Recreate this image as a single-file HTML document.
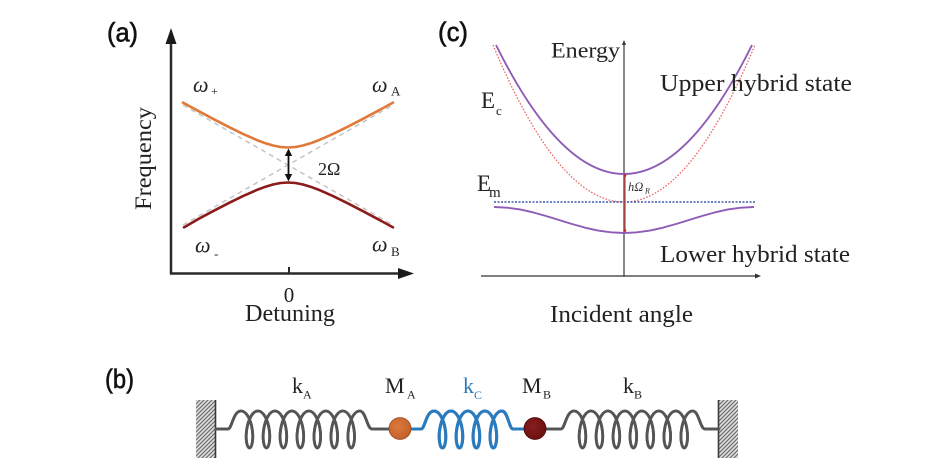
<!DOCTYPE html>
<html>
<head>
<meta charset="utf-8">
<style>
  html,body{margin:0;padding:0;background:#fff;}
  svg{display:block;}
  .serif{font-family:"Liberation Serif","DejaVu Serif",serif;}
  .sans{font-family:"Liberation Sans","DejaVu Sans",sans-serif;}
</style>
</head>
<body>
<svg width="943" height="468" viewBox="0 0 943 468" xmlns="http://www.w3.org/2000/svg">
  <defs>
    <pattern id="hatch" patternUnits="userSpaceOnUse" width="4" height="4">
      <rect width="4" height="4" fill="#e2e2e2"/>
      <path d="M-1,1 l2,-2 M0,4 l4,-4 M3,5 l2,-2" stroke="#707070" stroke-width="1.3"/>
    </pattern>
    <radialGradient id="gOr" cx="0.4" cy="0.4" r="0.6">
      <stop offset="0" stop-color="#dc7a3c"/>
      <stop offset="1" stop-color="#c4612a"/>
    </radialGradient>
    <radialGradient id="gRd" cx="0.4" cy="0.4" r="0.6">
      <stop offset="0" stop-color="#8a1e1e"/>
      <stop offset="1" stop-color="#6a1010"/>
    </radialGradient>
  </defs>

  <!-- ================= Panel (a) ================= -->
  <text x="107" y="41.5" class="sans" font-size="27" textLength="31" lengthAdjust="spacingAndGlyphs" fill="#111" stroke="#111" stroke-width="0.6">(a)</text>

  <!-- axes -->
  <line x1="171" y1="274" x2="171" y2="40" stroke="#2a2a2a" stroke-width="2.5"/>
  <polygon points="171,28 165.5,44 176.5,44" fill="#1a1a1a"/>
  <line x1="170" y1="273.5" x2="402" y2="273.5" stroke="#2a2a2a" stroke-width="2.5"/>
  <polygon points="414,273.5 398,268 398,279" fill="#1a1a1a"/>
  <line x1="289" y1="267" x2="289" y2="273" stroke="#2a2a2a" stroke-width="2"/>

  <text x="289" y="302" class="serif" font-size="21" text-anchor="middle" fill="#222">0</text>
  <text x="290" y="321" class="serif" font-size="24" text-anchor="middle" textLength="90" lengthAdjust="spacingAndGlyphs" fill="#222">Detuning</text>
  <text transform="translate(151,158.5) rotate(-90)" class="serif" font-size="23" text-anchor="middle" textLength="103" lengthAdjust="spacingAndGlyphs" fill="#222">Frequency</text>

  <!-- asymptotes -->
  <line x1="183" y1="105" x2="393" y2="225" stroke="#c4c4c4" stroke-width="1.5" stroke-dasharray="5 4"/>
  <line x1="183" y1="225" x2="393" y2="105" stroke="#c4c4c4" stroke-width="1.5" stroke-dasharray="5 4"/>

  <!-- curves -->
  <polyline fill="none" stroke="#e07a3a" stroke-width="2.6" stroke-linejoin="round" stroke-linecap="round"
    points="183,102.64 198,110.8 213,118.81 228,126.58 243,133.95 258,140.53 265.5,143.3 273,145.52 280.5,146.99 288,147.5 295.5,146.99 303,145.52 310.5,143.3 318,140.53 333,133.95 348,126.58 363,118.81 378,110.8 393,102.64"/>
  <polyline fill="none" stroke="#8b1c1c" stroke-width="2.6" stroke-linejoin="round" stroke-linecap="round"
    points="184,227.36 198,219.2 213,211.19 228,203.42 243,196.05 258,189.47 265.5,186.7 273,184.48 280.5,183.01 288,182.5 295.5,183.01 303,184.48 310.5,186.7 318,189.47 333,196.05 348,203.42 363,211.19 378,219.2 393,227.36"/>

  <!-- 2Omega arrow -->
  <line x1="288.5" y1="153" x2="288.5" y2="177" stroke="#111" stroke-width="1.8"/>
  <polygon points="288.5,148.5 284.8,156 292.2,156" fill="#111"/>
  <polygon points="288.5,181.5 284.8,174 292.2,174" fill="#111"/>
  <text x="318" y="175" class="serif" font-size="18" fill="#222">2Ω</text>

  <!-- omega labels -->
  <text x="193" y="92" class="serif" font-size="22" font-style="italic" fill="#222">ω</text>
  <text x="211" y="95" class="serif" font-size="12" fill="#222">+</text>
  <text x="372" y="92" class="serif" font-size="22" font-style="italic" fill="#222">ω</text>
  <text x="391" y="95.5" class="serif" font-size="13" fill="#222">A</text>
  <text x="195" y="252.5" class="serif" font-size="22" font-style="italic" fill="#222">ω</text>
  <text x="214" y="258" class="serif" font-size="13" fill="#222">-</text>
  <text x="372" y="251.5" class="serif" font-size="22" font-style="italic" fill="#222">ω</text>
  <text x="391" y="256" class="serif" font-size="13" fill="#222">B</text>

  <!-- ================= Panel (c) ================= -->
  <text x="438" y="41" class="sans" font-size="27" textLength="30" lengthAdjust="spacingAndGlyphs" fill="#111" stroke="#111" stroke-width="0.6">(c)</text>

  <!-- axes -->
  <line x1="624" y1="43" x2="624" y2="277" stroke="#555" stroke-width="1.4"/>
  <polygon points="624,40 622,45 626,45" fill="#333"/>
  <line x1="481" y1="276" x2="757" y2="276" stroke="#555" stroke-width="1.6"/>
  <polygon points="761,276 755,273.5 755,278.5" fill="#333"/>

  <!-- red dotted parabola -->
  <path d="M493,45 Q624,359 755,45" fill="none" stroke="#ec6a6a" stroke-width="1.3" stroke-dasharray="1.6 1.6"/>
  <!-- upper purple parabola -->
  <path d="M496,45 Q624,303 752,45" fill="none" stroke="#8e5bb5" stroke-width="1.9"/>
  <!-- blue dotted line -->
  <line x1="494" y1="202" x2="755" y2="202" stroke="#3a56a8" stroke-width="1.6" stroke-dasharray="2 1.5"/>
  <!-- lower purple -->
  <polyline fill="none" stroke="#8e5bb5" stroke-width="1.9" stroke-linejoin="round"
    points="494,207 507,207.64 520,209.48 533,212.36 546,215.98 559,220 572,224.02 585,227.64 598,230.52 611,232.36 624,233 637,232.36 650,230.52 663,227.64 676,224.02 689,220 702,215.98 715,212.36 728,209.48 741,207.64 754,207"/>
  <!-- red vertical -->
  <line x1="625" y1="175" x2="625" y2="231" stroke="#d43a3a" stroke-width="1.2"/>
  <circle cx="625" cy="175.5" r="1.3" fill="#c02020"/>
  <circle cx="625" cy="230.5" r="1.3" fill="#c02020"/>
  <text x="628" y="191" class="serif" font-size="12.5" font-style="italic" fill="#333">hΩ</text>
  <text x="645" y="193.5" class="serif" font-size="8" font-style="italic" fill="#333">R</text>

  <!-- labels -->
  <text x="551" y="57.5" class="serif" font-size="22" textLength="69" lengthAdjust="spacingAndGlyphs" fill="#222">Energy</text>
  <text x="660" y="91" class="serif" font-size="24" textLength="192" lengthAdjust="spacingAndGlyphs" fill="#222">Upper hybrid state</text>
  <text x="660" y="262" class="serif" font-size="24" textLength="190" lengthAdjust="spacingAndGlyphs" fill="#222">Lower hybrid state</text>
  <text x="550" y="322" class="serif" font-size="24" textLength="143" lengthAdjust="spacingAndGlyphs" fill="#222">Incident angle</text>
  <text x="481" y="108" class="serif" font-size="23" fill="#222">E</text>
  <text x="496" y="115" class="serif" font-size="13" fill="#222">c</text>
  <text x="477" y="191" class="serif" font-size="23" fill="#222">E</text>
  <text x="489" y="197" class="serif" font-size="15" fill="#222">m</text>

  <!-- ================= Panel (b) ================= -->
  <text x="105" y="388" class="sans" font-size="27" textLength="29" lengthAdjust="spacingAndGlyphs" fill="#111" stroke="#111" stroke-width="0.6">(b)</text>

  <!-- walls -->
  <rect x="196" y="400" width="19" height="58" fill="url(#hatch)"/>
  <line x1="215.5" y1="400" x2="215.5" y2="458" stroke="#3a3a3a" stroke-width="1.6"/>
  <rect x="719" y="400" width="19" height="58" fill="url(#hatch)"/>
  <line x1="718.5" y1="400" x2="718.5" y2="458" stroke="#3a3a3a" stroke-width="1.6"/>

  <g fill="none" stroke-linejoin="round" stroke-linecap="round">
    <!-- left spring -->
    <path id="sL" d="M216,429 L228,429 C232,429 233,411 241,411
      c 5.34,0 9.75,8.32 11.24,18.5 c 1.49,10.18 -0.39,18.5 -2.76,18.5 c -2.37,0 -4.25,-8.32 -2.76,-18.5 c 1.49,-10.18 5.9,-18.5 11.24,-18.5
      c 5.34,0 9.75,8.32 11.24,18.5 c 1.49,10.18 -0.39,18.5 -2.76,18.5 c -2.37,0 -4.25,-8.32 -2.76,-18.5 c 1.49,-10.18 5.9,-18.5 11.24,-18.5
      c 5.34,0 9.75,8.32 11.24,18.5 c 1.49,10.18 -0.39,18.5 -2.76,18.5 c -2.37,0 -4.25,-8.32 -2.76,-18.5 c 1.49,-10.18 5.9,-18.5 11.24,-18.5
      c 5.34,0 9.75,8.32 11.24,18.5 c 1.49,10.18 -0.39,18.5 -2.76,18.5 c -2.37,0 -4.25,-8.32 -2.76,-18.5 c 1.49,-10.18 5.9,-18.5 11.24,-18.5
      c 5.34,0 9.75,8.32 11.24,18.5 c 1.49,10.18 -0.39,18.5 -2.76,18.5 c -2.37,0 -4.25,-8.32 -2.76,-18.5 c 1.49,-10.18 5.9,-18.5 11.24,-18.5
      c 5.34,0 9.75,8.32 11.24,18.5 c 1.49,10.18 -0.39,18.5 -2.76,18.5 c -2.37,0 -4.25,-8.32 -2.76,-18.5 c 1.49,-10.18 5.9,-18.5 11.24,-18.5
      c 5.34,0 9.75,8.32 11.24,18.5 c 1.49,10.18 -0.39,18.5 -2.76,18.5 c -2.37,0 -4.25,-8.32 -2.76,-18.5 c 1.49,-10.18 5.9,-18.5 11.24,-18.5
      C366,411 367,429 372,429 L389,429" stroke="#555" stroke-width="2.8"/>
    <use href="#sL" stroke="#cfcfcf" stroke-width="1"/>

    <!-- right spring -->
    <path id="sR" d="M546,429 L561,429 C565,429 566,411 574,411
      c 5.34,0 9.75,8.32 11.24,18.5 c 1.49,10.18 -0.39,18.5 -2.76,18.5 c -2.37,0 -4.25,-8.32 -2.76,-18.5 c 1.49,-10.18 5.9,-18.5 11.24,-18.5
      c 5.34,0 9.75,8.32 11.24,18.5 c 1.49,10.18 -0.39,18.5 -2.76,18.5 c -2.37,0 -4.25,-8.32 -2.76,-18.5 c 1.49,-10.18 5.9,-18.5 11.24,-18.5
      c 5.34,0 9.75,8.32 11.24,18.5 c 1.49,10.18 -0.39,18.5 -2.76,18.5 c -2.37,0 -4.25,-8.32 -2.76,-18.5 c 1.49,-10.18 5.9,-18.5 11.24,-18.5
      c 5.34,0 9.75,8.32 11.24,18.5 c 1.49,10.18 -0.39,18.5 -2.76,18.5 c -2.37,0 -4.25,-8.32 -2.76,-18.5 c 1.49,-10.18 5.9,-18.5 11.24,-18.5
      c 5.34,0 9.75,8.32 11.24,18.5 c 1.49,10.18 -0.39,18.5 -2.76,18.5 c -2.37,0 -4.25,-8.32 -2.76,-18.5 c 1.49,-10.18 5.9,-18.5 11.24,-18.5
      c 5.34,0 9.75,8.32 11.24,18.5 c 1.49,10.18 -0.39,18.5 -2.76,18.5 c -2.37,0 -4.25,-8.32 -2.76,-18.5 c 1.49,-10.18 5.9,-18.5 11.24,-18.5
      c 5.34,0 9.75,8.32 11.24,18.5 c 1.49,10.18 -0.39,18.5 -2.76,18.5 c -2.37,0 -4.25,-8.32 -2.76,-18.5 c 1.49,-10.18 5.9,-18.5 11.24,-18.5
      C699,411 700,429 705,429 L719,429" stroke="#555" stroke-width="2.8"/>
    <use href="#sR" stroke="#cfcfcf" stroke-width="1"/>

    <!-- coupling spring (blue) -->
    <path id="sC" d="M410,429 L421,429 C425,429 426,411 434,411
      c 5.34,0 9.75,8.32 11.24,18.5 c 1.49,10.18 -0.39,18.5 -2.76,18.5 c -2.37,0 -4.25,-8.32 -2.76,-18.5 c 1.49,-10.18 5.9,-18.5 11.24,-18.5
      c 5.34,0 9.75,8.32 11.24,18.5 c 1.49,10.18 -0.39,18.5 -2.76,18.5 c -2.37,0 -4.25,-8.32 -2.76,-18.5 c 1.49,-10.18 5.9,-18.5 11.24,-18.5
      c 5.34,0 9.75,8.32 11.24,18.5 c 1.49,10.18 -0.39,18.5 -2.76,18.5 c -2.37,0 -4.25,-8.32 -2.76,-18.5 c 1.49,-10.18 5.9,-18.5 11.24,-18.5
      c 5.34,0 9.75,8.32 11.24,18.5 c 1.49,10.18 -0.39,18.5 -2.76,18.5 c -2.37,0 -4.25,-8.32 -2.76,-18.5 c 1.49,-10.18 5.9,-18.5 11.24,-18.5
      C508,411 509,429 513,429 L525,429" stroke="#2a7bbd" stroke-width="3"/>
    <use href="#sC" stroke="#86bde8" stroke-width="0.9"/>
  </g>

  <!-- masses -->
  <circle cx="400" cy="428.5" r="11" fill="url(#gOr)" stroke="#9a4a20" stroke-width="0.8"/>
  <circle cx="535" cy="428.5" r="11" fill="url(#gRd)" stroke="#4a0a0a" stroke-width="0.8"/>

  <!-- labels -->
  <text x="292" y="393" class="serif" font-size="22" fill="#222">k</text>
  <text x="303" y="398.5" class="serif" font-size="12" fill="#222">A</text>
  <text x="385" y="393" class="serif" font-size="22" fill="#222">M</text>
  <text x="407" y="398.5" class="serif" font-size="12" fill="#222">A</text>
  <text x="463" y="393" class="serif" font-size="22" fill="#2a7bbd">k</text>
  <text x="474" y="399" class="serif" font-size="12" fill="#2a7bbd">C</text>
  <text x="522" y="393" class="serif" font-size="22" fill="#222">M</text>
  <text x="543" y="398.5" class="serif" font-size="12" fill="#222">B</text>
  <text x="623" y="393" class="serif" font-size="22" fill="#222">k</text>
  <text x="634" y="398.5" class="serif" font-size="12" fill="#222">B</text>
</svg>
</body>
</html>
